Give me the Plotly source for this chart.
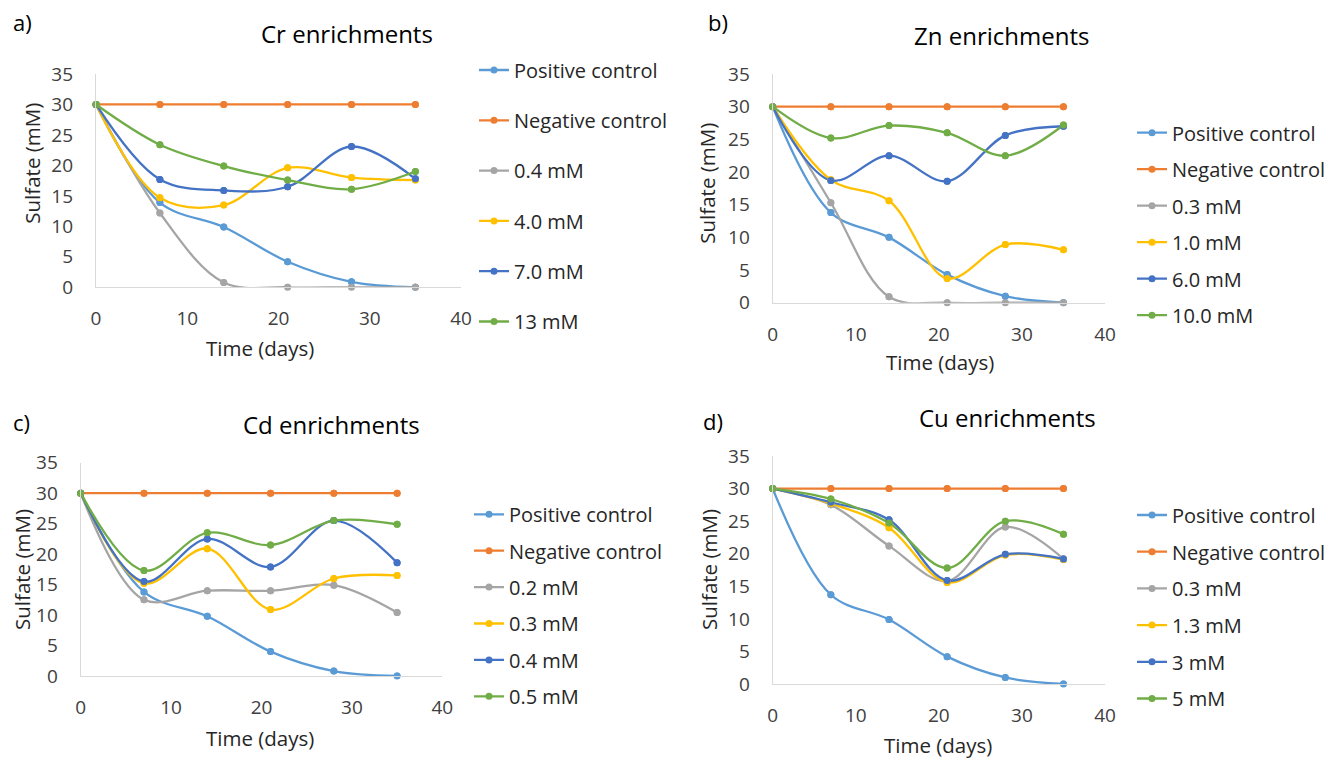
import plotly.graph_objects as go

# ---------------- data ----------------
days = [0, 7, 14, 21, 28, 35]

positive_control = [30, 13.9, 9.9, 4.2, 0.9, 0]
negative_control = [30, 30, 30, 30, 30, 30]

# a) Cr enrichments
cr_labels = ["0.4 mM", "4.0 mM", "7.0 mM", "13 mM"]
cr_04 = [30, 12.2, 0.8, 0, 0, 0]
cr_40 = [30, 14.7, 13.5, 19.6, 18.0, 17.6]
cr_70 = [30, 17.7, 15.9, 16.5, 23.1, 17.8]
cr_13 = [30, 23.4, 19.9, 17.6, 16.1, 19.0]

# b) Zn enrichments
zn_labels = ["0.3 mM", "1.0 mM", "6.0 mM", "10.0 mM"]
zn_positive = [30, 13.8, 10.0, 4.3, 1.0, 0]
zn_03 = [30, 15.3, 0.9, 0, 0, 0]
zn_10 = [30, 18.8, 15.6, 3.7, 8.9, 8.1]
zn_60 = [30, 18.7, 22.5, 18.6, 25.6, 27.0]
zn_100 = [30, 25.2, 27.1, 26.0, 22.5, 27.2]

# c) Cd enrichments
cd_labels = ["0.2 mM", "0.3 mM", "0.4 mM", "0.5 mM"]
cd_positive = [30, 13.8, 9.8, 4.0, 0.8, 0]
cd_02 = [30, 12.5, 14.0, 14.0, 14.9, 10.4]
cd_03 = [30, 15.2, 20.9, 10.9, 16.0, 16.5]
cd_04 = [30, 15.5, 22.5, 17.9, 25.5, 18.6]
cd_05 = [30, 17.3, 23.5, 21.5, 25.5, 24.9]

# d) Cu enrichments
cu_labels = ["0.3 mM", "1.3 mM", "3 mM", "5 mM"]
cu_positive = [30, 13.7, 9.9, 4.2, 1.0, 0]
cu_03 = [30, 27.5, 21.2, 15.8, 24.1, 19.2]
cu_13 = [30, 27.7, 24.0, 15.6, 19.8, 19.1]
cu_3 = [30, 27.9, 25.2, 15.9, 19.9, 19.2]
cu_5 = [30, 28.4, 24.7, 17.8, 25.0, 23.0]

control_labels = ["Positive control", "Negative control"]
panel_titles = ["Cr enrichments", "Zn enrichments", "Cd enrichments", "Cu enrichments"]
panel_tags = ["a)", "b)", "c)", "d)"]
x_title = "Time (days)"
y_title = "Sulfate (mM)"

colors = ["#5B9BD5", "#ED7D31", "#A5A5A5", "#FFC000", "#4472C4", "#70AD47"]

panels = [
    (control_labels + cr_labels, [positive_control, negative_control, cr_04, cr_40, cr_70, cr_13]),
    (control_labels + zn_labels, [zn_positive, negative_control, zn_03, zn_10, zn_60, zn_100]),
    (control_labels + cd_labels, [cd_positive, negative_control, cd_02, cd_03, cd_04, cd_05]),
    (control_labels + cu_labels, [cu_positive, negative_control, cu_03, cu_13, cu_3, cu_5]),
]

# ---------------- layout geometry (page pixels of the 1341x758 window) ----------------
OFF = 8  # default page body margin around the figure
W, H = 1341 - OFF, 758 - OFF
FONT = "Open Sans"


def px(x):
    return (x - OFF) / W


def py(y):
    return 1 - (y - OFF) / H


# plot areas: (left, right, top, bottom) in page px
areas = [
    (96, 461, 74, 287.3),
    (772.7, 1105, 74, 302.7),
    (80.7, 442.3, 462.7, 676),
    (772.7, 1105, 456, 684),
]
LEG_SIZE = 20
item_h = LEG_SIZE * 1.3 + 3
legend_specs = [  # (left px, first item centre px, item spacing px)
    (474, 70, 50.3),
    (1132, 132.7, 36.5),
    (469, 514.3, 36.4),
    (1132, 515, 36.7),
]
title_pos = [(347, 34), (1001.7, 35), (331, 424), (1007.5, 417)]
tag_pos = [(22, 22), (718, 22), (21, 422), (713, 421)]
xtitle_pos = [(260, 348), (940, 362), (260, 738), (938, 745)]
ytitle_pos = [(31.7, 163), (706.7, 183), (22, 570), (709, 570)]

fig = go.Figure()
annotations = []
layout = {}

for i, (names, series) in enumerate(panels):
    k = "" if i == 0 else str(i + 1)
    xa, ya, lg = "x" + k, "y" + k, "legend" + k
    for j, (name, vals) in enumerate(zip(names, series)):
        fig.add_trace(go.Scatter(
            x=days, y=vals, name=name, mode="lines+markers",
            line=dict(color=colors[j], width=2.3, shape="spline", smoothing=1.0),
            marker=dict(color=colors[j], size=7),
            xaxis=xa, yaxis=ya, legend=lg, legendgroup=f"p{i}s{j}",
            cliponaxis=True, hoverinfo="x+y+name",
        ))
    # markers drawn again, unclipped, so points on the axes show whole
    for j, vals in enumerate(series):
        fig.add_trace(go.Scatter(
            x=days, y=vals, mode="markers", showlegend=False,
            marker=dict(color=colors[j], size=7),
            xaxis=xa, yaxis=ya, cliponaxis=False, hoverinfo="skip",
        ))

    l, r, t, b = areas[i]
    axis_common = dict(
        showgrid=False, zeroline=False, showline=True, linecolor="#D9D9D9",
        linewidth=1.3, ticks="", automargin=False,
        tickfont=dict(family=FONT, size=19, color="#404040"),
    )
    layout["xaxis" + k] = dict(
        axis_common, domain=[px(l), px(r)], range=[0, 40], dtick=10, tick0=0,
        anchor=ya, ticklabelstandoff=14,
    )
    layout["yaxis" + k] = dict(
        axis_common, domain=[py(b), py(t)], range=[0, 35], dtick=5, tick0=0,
        anchor=xa, ticklabelstandoff=18,
    )
    ll, first_c, spacing = legend_specs[i]
    layout[lg] = dict(
        x=px(ll), y=py(first_c - (item_h / 2 + 5)), xanchor="left", yanchor="top",
        xref="paper", yref="paper",
        font=dict(family=FONT, size=LEG_SIZE, color="#262626"), bgcolor="rgba(0,0,0,0)",
        tracegroupgap=spacing - item_h, itemclick=False, itemdoubleclick=False, borderwidth=0,
    )

    tx, ty = title_pos[i]
    annotations.append(dict(x=px(tx), y=py(ty), xref="paper", yref="paper", text=panel_titles[i],
                            showarrow=False, xanchor="center", yanchor="middle",
                            font=dict(family=FONT, size=24, color="#000000")))
    gx, gy = tag_pos[i]
    annotations.append(dict(x=px(gx), y=py(gy), xref="paper", yref="paper", text=panel_tags[i],
                            showarrow=False, xanchor="center", yanchor="middle",
                            font=dict(family=FONT, size=22, color="#000000")))
    xx, xy = xtitle_pos[i]
    annotations.append(dict(x=px(xx), y=py(xy), xref="paper", yref="paper", text=x_title,
                            showarrow=False, xanchor="center", yanchor="middle",
                            font=dict(family=FONT, size=20.5, color="#262626")))
    yx, yy = ytitle_pos[i]
    annotations.append(dict(x=px(yx), y=py(yy), xref="paper", yref="paper", text=y_title,
                            showarrow=False, xanchor="center", yanchor="middle", textangle=-90,
                            borderpad=0,
                            font=dict(family=FONT, size=20.5, color="#262626")))

fig.update_layout(
    template="none",
    width=W, height=H, margin=dict(l=0, r=0, t=0, b=0, pad=0, autoexpand=False),
    paper_bgcolor="white", plot_bgcolor="white",
    font=dict(family=FONT, color="#262626"),
    annotations=annotations, **layout,
)

fig.write_html("out.html")
